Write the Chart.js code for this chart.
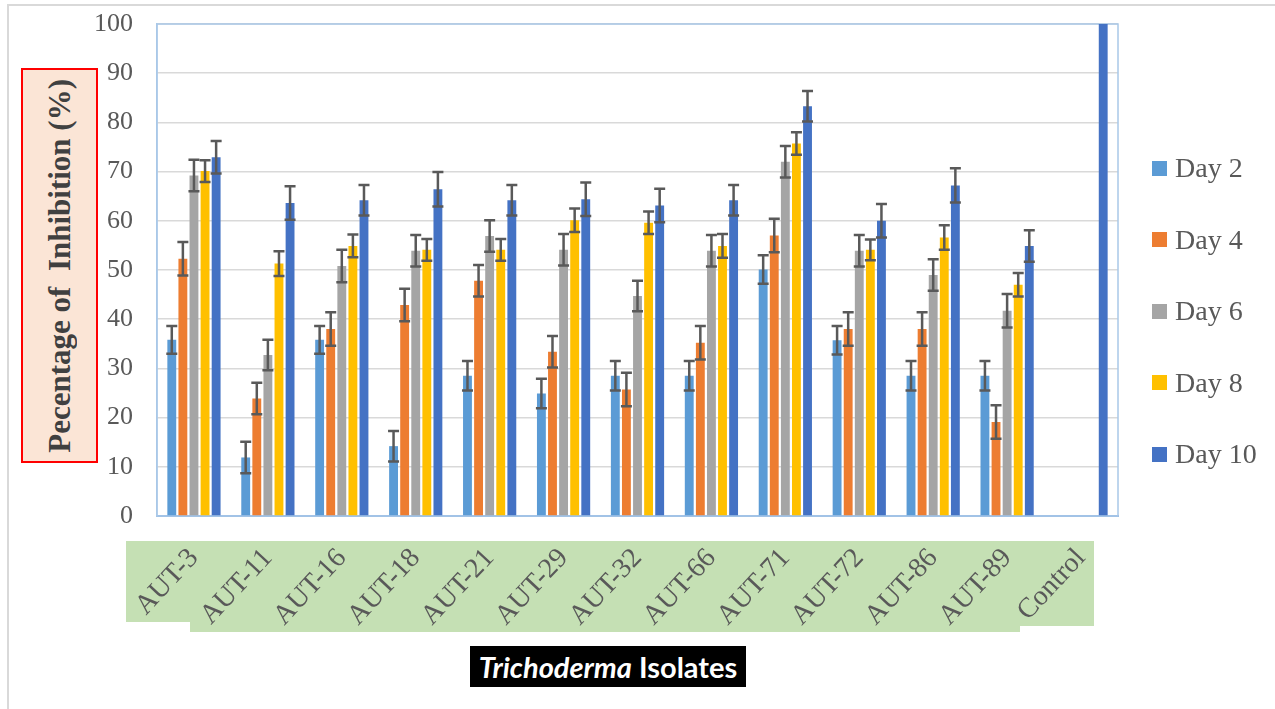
<!DOCTYPE html>
<html>
<head>
<meta charset="utf-8">
<script src="https://cdn.jsdelivr.net/npm/chart.js@4.4.1/dist/chart.umd.min.js"></script>
<style>
    body { margin: 0; background: #fff; }
    #wrap { position: relative; width: 1275px; height: 709px; overflow: hidden; }
    #frame { position: absolute; left: 7px; top: 4px; width: 1300px; height: 800px;
             border-top: 2px solid #d9d9d9; border-left: 2px solid #d9d9d9; }
    canvas { position: absolute; left: 0; top: 0; }
    #ytitle { position: absolute; left: 21px; top: 68px; width: 73px; height: 391px;
              background: #fbe5d6; border: 2px solid #ff0000;
              display: flex; align-items: center; justify-content: center; }
    #ytitle span { writing-mode: vertical-rl; transform: rotate(180deg); white-space: pre;
                   font: bold 31px "Liberation Serif", serif; color: #404040; }
    #xtitle { position: absolute; left: 470px; top: 646px; width: 276px; height: 41px;
              background: #000; color: #fff; display: flex; align-items: center; justify-content: center;
              font: bold 29px Lato, sans-serif; white-space: pre; }
    .leg { position: absolute; left: 1152px; font: 28px "Liberation Serif", serif; color: #595959;
           display: flex; align-items: center; height: 30px; }
    .leg i { display: inline-block; width: 15px; height: 15px; margin-right: 8px; }
</style>
</head>
<body>
<div id="wrap">
    <div id="frame"></div>
    <canvas id="chart" width="1275" height="709"></canvas>
    <div id="ytitle"><span>Pecentage of  Inhibition (%)</span></div>
    <div id="xtitle"><i>Trichoderma</i> Isolates</div>
</div>
<script>
// données
const isolates = ['AUT-3', 'AUT-11', 'AUT-16', 'AUT-18', 'AUT-21', 'AUT-29', 'AUT-32', 'AUT-66', 'AUT-71', 'AUT-72', 'AUT-86', 'AUT-89', 'Control'];
const seriesNames = ['Day 2', 'Day 4', 'Day 6', 'Day 8', 'Day 10'];
const seriesColors = ['#5b9bd5', '#ed7d31', '#a5a5a5', '#ffc000', '#4472c4'];

const day2 = [35.8, 11.9, 35.8, 14.2, 28.5, 24.9, 28.5, 28.5, 50.1, 35.7, 28.5, 28.5, null];
const day4 = [52.3, 23.9, 38.0, 42.9, 47.8, 33.4, 25.7, 35.2, 57.0, 38.0, 38.0, 19.1, null];
const day6 = [69.2, 32.7, 50.8, 53.9, 56.9, 54.1, 44.7, 53.9, 72.0, 53.9, 49.0, 41.7, null];
const day8 = [70.1, 51.3, 54.9, 54.1, 54.1, 60.1, 59.6, 54.9, 75.7, 54.1, 56.6, 47.0, null];
const day10 = [72.9, 63.6, 64.2, 66.4, 64.2, 64.4, 63.1, 64.2, 83.3, 60.0, 67.2, 54.9, 100];

// barres d'erreur (+/-)
const err2 = [2.8, 3.2, 2.8, 3.1, 3.0, 3.0, 3.0, 3.0, 2.9, 2.9, 3.0, 3.0, null];
const err4 = [3.4, 3.2, 3.4, 3.3, 3.2, 3.2, 3.4, 3.4, 3.4, 3.4, 3.4, 3.4, null];
const err6 = [3.2, 3.1, 3.3, 3.2, 3.2, 3.2, 3.1, 3.2, 3.2, 3.2, 3.2, 3.4, null];
const err8 = [2.2, 2.5, 2.3, 2.2, 2.2, 2.4, 2.3, 2.4, 2.3, 2.1, 2.5, 2.4, null];
const err10 = [3.3, 3.4, 3.1, 3.5, 3.1, 3.4, 3.4, 3.1, 3.1, 3.4, 3.5, 3.2, null];

const yTicks = [0, 10, 20, 30, 40, 50, 60, 70, 80, 90, 100];

const values = [day2, day4, day6, day8, day10];
const errors = [err2, err4, err6, err8, err10];

// légende à droite
seriesNames.forEach((name, i) => {
    const item = document.createElement('div');
    item.className = 'leg';
    item.style.top = (153 + i * 71.5) + 'px';
    item.innerHTML = `<i style="background:${seriesColors[i]}"></i>${name}`;
    document.getElementById('wrap').appendChild(item);
});

// fond vert derrière les étiquettes + cadre du graphique
const decorPlugin = {
    id: 'decor',
    beforeDraw(chart) {
        const ctx = chart.ctx;
        ctx.save();
        ctx.fillStyle = '#c5e0b4';
        ctx.beginPath();
        ctx.moveTo(126, 541);
        ctx.lineTo(1094, 541);
        ctx.lineTo(1094, 626);
        ctx.lineTo(1020, 626);
        ctx.lineTo(1020, 632);
        ctx.lineTo(190, 632);
        ctx.lineTo(190, 622);
        ctx.lineTo(126, 622);
        ctx.closePath();
        ctx.fill();
        ctx.restore();
    },
    beforeDatasetsDraw(chart) {
        const a = chart.chartArea;
        const ctx = chart.ctx;
        ctx.save();
        ctx.strokeStyle = '#a9c8e8';
        ctx.lineWidth = 1.5;
        ctx.strokeRect(a.left, a.top, a.right - a.left, a.bottom - a.top);
        ctx.restore();
    },
    afterDatasetsDraw(chart) {
        const ctx = chart.ctx;
        const y = chart.scales.y;
        ctx.save();
        ctx.strokeStyle = '#595959';
        ctx.lineWidth = 2.5;
        errors.forEach((errs, i) => {
            const meta = chart.getDatasetMeta(i);
            meta.data.forEach((bar, j) => {
                const v = values[i][j];
                const e = errs[j];
                if (v == null || e == null) return;
                const top = y.getPixelForValue(v + e);
                const bot = y.getPixelForValue(v - e);
                ctx.beginPath();
                ctx.moveTo(bar.x, top);
                ctx.lineTo(bar.x, bot);
                ctx.moveTo(bar.x - 5.5, top);
                ctx.lineTo(bar.x + 5.5, top);
                ctx.moveTo(bar.x - 5.5, bot);
                ctx.lineTo(bar.x + 5.5, bot);
                ctx.stroke();
            });
        });
        ctx.restore();
    }
};

const ctx = document.getElementById('chart').getContext('2d');
const chart = new Chart(ctx, {
    type: 'bar',
    data: {
        labels: isolates,
        datasets: seriesNames.map((name, i) => ({
            label: name,
            data: values[i],
            backgroundColor: seriesColors[i],
            categoryPercentage: 0.75,
            barPercentage: 0.8
        }))
    },
    options: {
        responsive: false,
        animation: false,
        devicePixelRatio: 1,
        layout: { padding: { left: 0, top: 24, right: 157, bottom: 0 } },
        plugins: {
            legend: { display: false },
            tooltip: { enabled: false }
        },
        scales: {
            x: {
                grid: { display: false },
                border: { color: '#8eb4e3', width: 2 },
                ticks: {
                    color: '#595959',
                    font: { family: 'Liberation Serif', size: 28 },
                    minRotation: 47,
                    maxRotation: 47,
                    padding: 18
                },
                afterFit: (scale) => {
                    scale.height = 193;
                    scale.paddingLeft = 0;
                    scale.paddingRight = 0;
                }
            },
            y: {
                min: 0,
                max: 100,
                afterBuildTicks: (scale) => { scale.ticks = yTicks.map(v => ({ value: v })); },
                grid: { color: '#d9d9d9', lineWidth: 1.5, drawTicks: false },
                border: { color: '#a9c8e8', width: 1.5 },
                ticks: {
                    color: '#595959',
                    font: { family: 'Liberation Serif', size: 26 },
                    padding: 24
                },
                afterFit: (scale) => {
                    scale.width = 157;
                    scale.paddingTop = 0;
                    scale.paddingBottom = 0;
                }
            }
        }
    },
    plugins: [decorPlugin]
});
</script>
</body>
</html>
